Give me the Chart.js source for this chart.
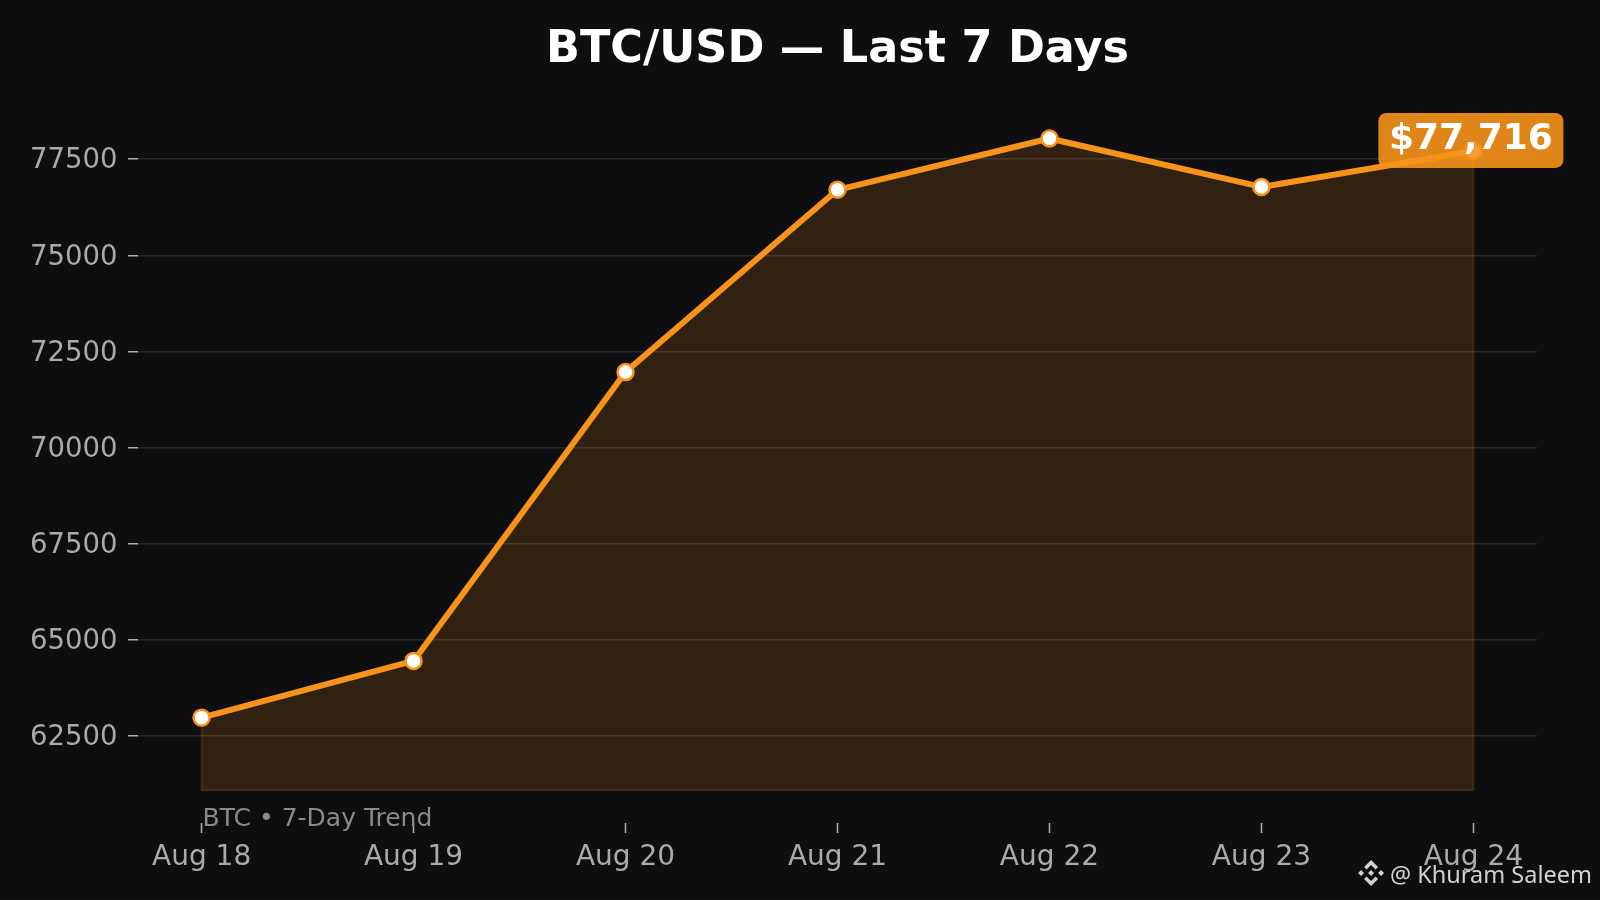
<!DOCTYPE html>
<html>
<head>
<meta charset="utf-8">
<script src="https://cdn.jsdelivr.net/npm/chart.js@4.4.1/dist/chart.umd.min.js"></script>
<style>
  html, body { margin: 0; padding: 0; background: #0e0e10; }
  #wrap { width: 1600px; height: 900px; position: relative; }
</style>
</head>
<body>
<div id="wrap"><canvas id="c" width="1600" height="900"></canvas></div>
<script>
// ---- data ----
const dayLabels = ['Aug 18', 'Aug 19', 'Aug 20', 'Aug 21', 'Aug 22', 'Aug 23', 'Aug 24'];
const btcPrices = [62980, 64455, 71965, 76705, 78040, 76780, 77716];
const yTickValues = [62500, 65000, 67500, 70000, 72500, 75000, 77500];
const fillBase = 61090;
const yMin = 60240;
const yMax = 78900;
const titleText = 'BTC/USD — Last 7 Days';
const trendText = 'BTC • 7-Day Trend';
const creditText = '@ Khuram Saleem';

const ORANGE = '#f7931a';
const pricePoints = btcPrices.map((v, i) => ({ x: i, y: v }));
const lastIdx = btcPrices.length - 1;
const outlinePoints = [
  { x: 0, y: btcPrices[0] },
  { x: 0, y: fillBase },
  { x: lastIdx, y: fillBase },
  { x: lastIdx, y: btcPrices[lastIdx] }
];

const overlayPlugin = {
  id: 'overlay',
  afterDatasetsDraw(chart) {
    const ctx = chart.ctx;
    const xs = chart.scales.x, ys = chart.scales.y;
    ctx.save();
    ctx.font = '25px "DejaVu Sans"';
    ctx.fillStyle = '#8a8a8a';
    ctx.textAlign = 'left';
    ctx.textBaseline = 'alphabetic';
    ctx.fillText(trendText, xs.getPixelForValue(0) + 1, 826);
    ctx.restore();

    const lv = btcPrices[lastIdx];
    const px = xs.getPixelForValue(lastIdx);
    const py = ys.getPixelForValue(lv);
    const w = 185, h = 55;
    const bx = px - 2.5 - w / 2, by = py - 10.5 - h / 2;
    ctx.save();
    ctx.fillStyle = 'rgba(247,147,26,0.9)';
    ctx.beginPath();
    ctx.roundRect(bx, by, w, h, 8);
    ctx.fill();
    ctx.font = 'bold 36px "DejaVu Sans"';
    ctx.fillStyle = '#ffffff';
    ctx.textAlign = 'center';
    ctx.textBaseline = 'middle';
    ctx.fillText('$' + lv.toLocaleString('en-US'), bx + w / 2, by + h / 2 - 1);
    ctx.restore();
  },
  afterDraw(chart) {
    const ctx = chart.ctx;
    ctx.save();
    ctx.font = '23.5px "Noto Sans"';
    ctx.fillStyle = '#d2d2d2';
    ctx.textAlign = 'right';
    ctx.textBaseline = 'alphabetic';
    ctx.fillText(creditText, 1592, 883);
    const tw = ctx.measureText(creditText).width;
    const cx = 1592 - tw - 19, cy = 873;
    const dia = (x, y, r) => {
      ctx.beginPath();
      ctx.moveTo(x, y - r); ctx.lineTo(x + r, y); ctx.lineTo(x, y + r); ctx.lineTo(x - r, y);
      ctx.closePath(); ctx.fill();
    };
    ctx.fillStyle = '#d2d2d2';
    ctx.beginPath();
    ctx.moveTo(cx, cy - 13); ctx.lineTo(cx + 7, cy - 6); ctx.lineTo(cx + 4.5, cy - 3.5);
    ctx.lineTo(cx, cy - 8); ctx.lineTo(cx - 4.5, cy - 3.5); ctx.lineTo(cx - 7, cy - 6);
    ctx.closePath(); ctx.fill();
    ctx.beginPath();
    ctx.moveTo(cx, cy + 13); ctx.lineTo(cx + 7, cy + 6); ctx.lineTo(cx + 4.5, cy + 3.5);
    ctx.lineTo(cx, cy + 8); ctx.lineTo(cx - 4.5, cy + 3.5); ctx.lineTo(cx - 7, cy + 6);
    ctx.closePath(); ctx.fill();
    dia(cx, cy, 3);
    dia(cx - 10, cy, 3);
    dia(cx + 10, cy, 3);
    ctx.restore();
  }
};

const bgPlugin = {
  id: 'bg',
  beforeDraw(chart) {
    const ctx = chart.ctx;
    ctx.save();
    ctx.fillStyle = '#0e0e10';
    ctx.fillRect(0, 0, chart.width, chart.height);
    ctx.restore();
  }
};

new Chart(document.getElementById('c'), {
  type: 'line',
  data: {
    datasets: [
      {
        label: 'BTC',
        data: pricePoints,
        borderColor: ORANGE,
        borderWidth: 6,
        borderJoinStyle: 'round',
        borderCapStyle: 'round',
        backgroundColor: 'rgba(247,147,26,0.15)',
        fill: { value: fillBase },
        pointRadius: 8,
        pointBorderWidth: 2.5,
        pointBackgroundColor: '#ffffff',
        pointBorderColor: ORANGE,
        tension: 0,
        order: 1
      },
      {
        label: 'edge',
        data: outlinePoints,
        borderColor: 'rgba(247,147,26,0.16)',
        borderWidth: 2,
        pointRadius: 0,
        fill: false,
        tension: 0,
        order: 2
      }
    ]
  },
  options: {
    responsive: false,
    devicePixelRatio: 1,
    animation: false,
    layout: { padding: { left: 0, right: 63, top: 0, bottom: 0 } },
    plugins: {
      legend: { display: false },
      tooltip: { enabled: false },
      title: {
        display: true,
        text: titleText,
        fullSize: false,
        color: '#ffffff',
        font: { family: 'DejaVu Sans', size: 44.5, weight: 'bold' },
        padding: { top: 24, bottom: 28 }
      }
    },
    scales: {
      x: {
        type: 'linear',
        min: -0.3,
        max: 6.3,
        afterBuildTicks(scale) { scale.ticks = dayLabels.map((_, i) => ({ value: i })); },
        afterFit(scale) { scale.height = 77; },
        ticks: {
          callback: (v) => dayLabels[v],
          color: '#aaaaaa',
          font: { family: 'DejaVu Sans', size: 28 },
          padding: 8,
          maxRotation: 0,
          autoSkip: false
        },
        grid: {
          display: true,
          drawOnChartArea: false,
          drawTicks: true,
          tickLength: 10,
          tickColor: '#b0b0b0',
          tickWidth: 1.5
        },
        border: { display: false }
      },
      y: {
        type: 'linear',
        min: yMin,
        max: yMax,
        afterBuildTicks(scale) { scale.ticks = yTickValues.map(v => ({ value: v })); },
        afterFit(scale) { scale.width = 138; },
        ticks: {
          callback: (v) => String(v),
          color: '#aaaaaa',
          font: { family: 'DejaVu Sans', size: 27.5 },
          padding: 10.5,
          labelOffset: 2
        },
        grid: {
          color: '#28282a',
          lineWidth: 1.5,
          tickLength: 10,
          tickColor: '#b0b0b0',
          tickWidth: 1.5
        },
        border: { display: false }
      }
    }
  },
  plugins: [bgPlugin, overlayPlugin]
});
</script>
</body>
</html>
